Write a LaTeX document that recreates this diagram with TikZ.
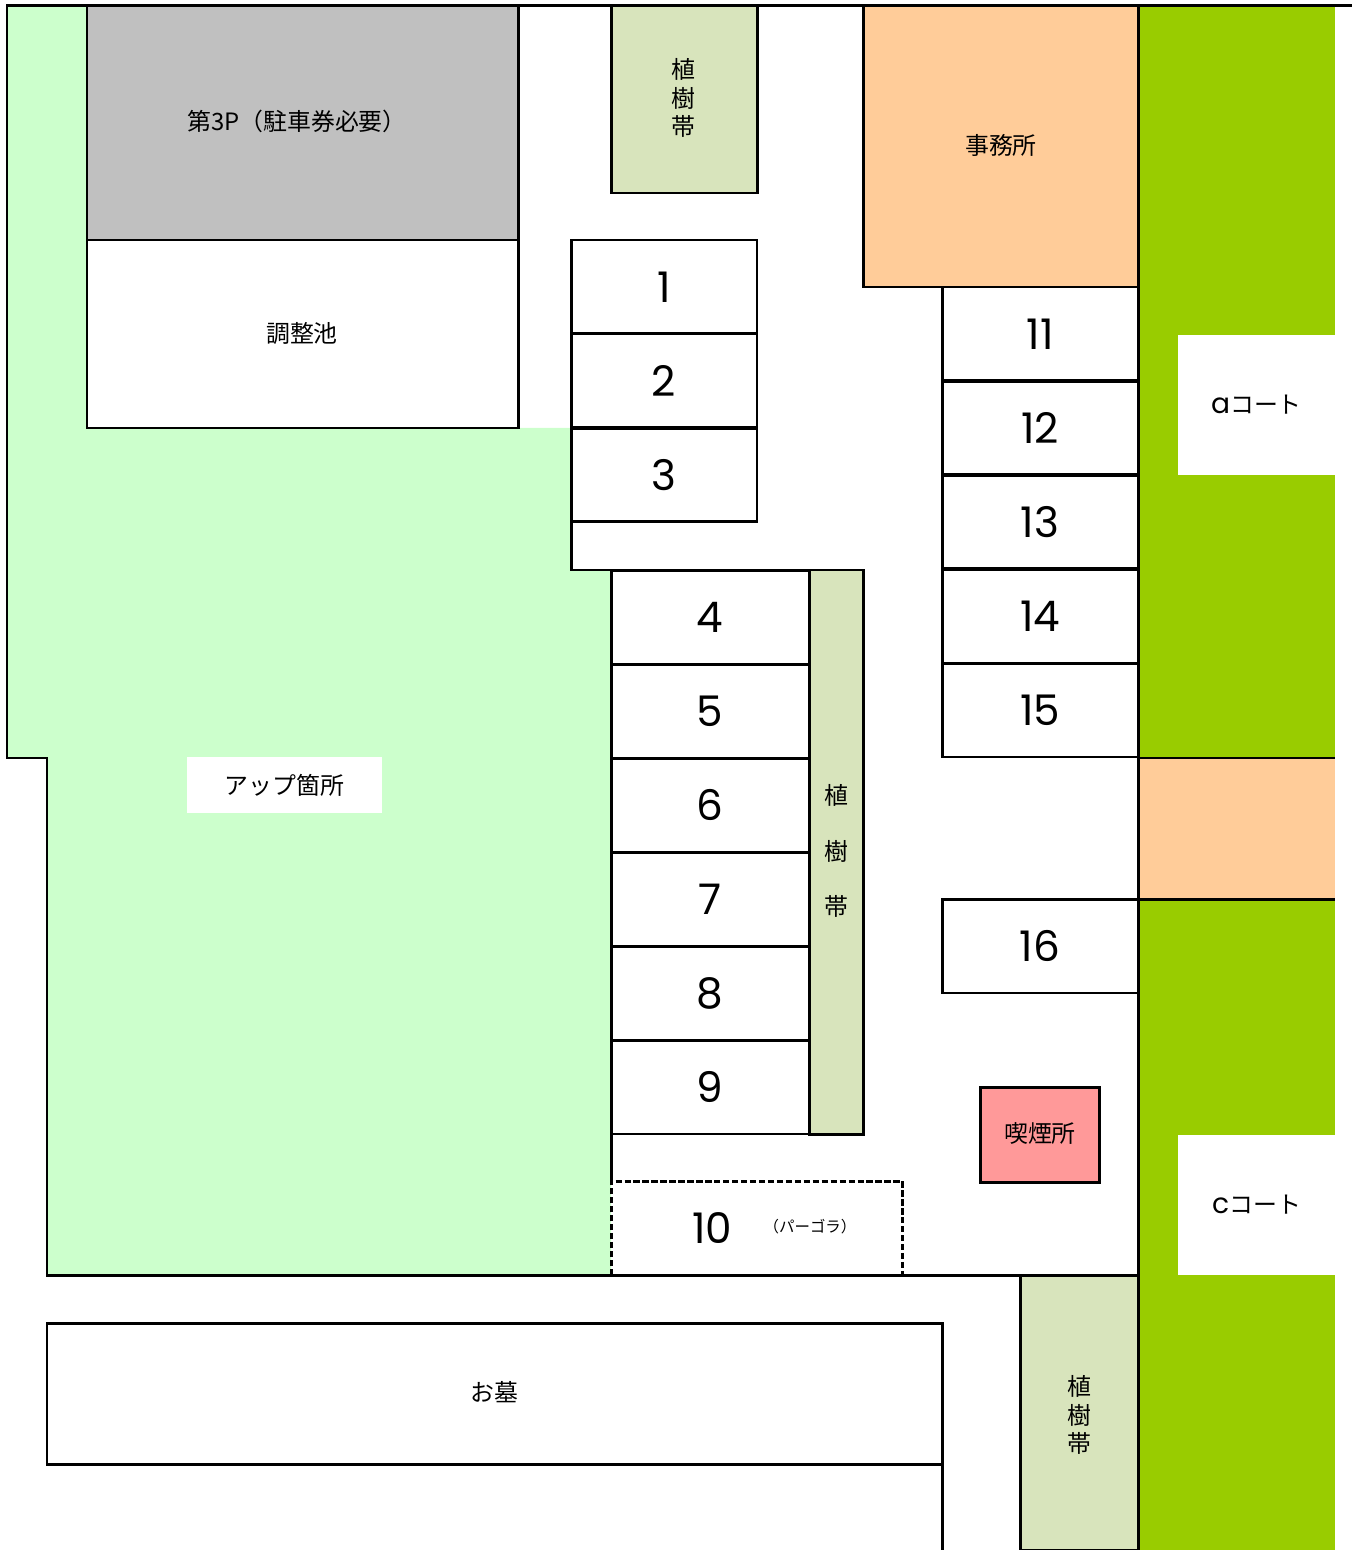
\documentclass[tikz,border=0pt]{standalone}
\usepackage{fontspec}
\setmainfont{Noto Sans CJK JP}
\newfontfamily\numfont{Poppins}
\definecolor{lawn}{HTML}{CCFFCC}
\definecolor{hedge}{HTML}{D8E4BC}
\definecolor{court}{HTML}{99CC00}
\definecolor{office}{HTML}{FFCC99}
\definecolor{smoke}{HTML}{FF9999}
\definecolor{pgrey}{HTML}{C0C0C0}
\tikzset{
  wall/.style={line width=1.7pt, draw=black},
  jp/.style={font=\fontsize{13.6}{16}\selectfont, inner sep=0pt, align=center},
  num/.style={font=\numfont\fontsize{24}{28}\selectfont, inner sep=0pt},
  slotA/.style={wall, fill=white, num, minimum width=3.72cm, minimum height=1.88cm},
  slotB/.style={wall, fill=white, num, minimum width=3.96cm, minimum height=1.88cm},
  slotC/.style={wall, fill=white, num, minimum width=3.92cm, minimum height=1.88cm},
  courtbox/.style={fill=white, jp, minimum width=3.14cm, minimum height=2.8cm}
}
\begin{document}
\begin{tikzpicture}[x=0.02cm, y=-0.02cm]
\useasboundingbox (0,0) rectangle (1357,1550);
\fill[lawn] (7,6) -- (87,6) -- (87,428) -- (571,428) -- (571,570) -- (611,570) -- (611,1275) -- (47,1275) -- (47,758) -- (7,758) -- cycle;
\fill[court] (1138,6) rectangle (1335,1550);
\fill[office] (1138,758) rectangle (1335,899);
\draw[wall] (6,6) -- (1352,6);
\draw[wall] (7,6) -- (7,758) -- (47,758) -- (47,1275) -- (1138,1275);
\draw[wall] (1138,6) -- (1138,1550);
\draw[wall] (1138,758) -- (1335,758);
\draw[wall] (1138,899) -- (1335,899);
\draw[wall] (571,522) -- (571,570) -- (863,570);
\draw[wall] (611,1134) -- (611,1181);
\draw[wall, fill=pgrey] (87,6) rectangle (518,240);
\draw[wall, fill=white] (87,240) rectangle (518,428);
\draw[wall, fill=hedge] (611,6) rectangle (757,193);
\draw[wall, fill=office] (863,6) rectangle (1138,287);
\draw[wall, fill=hedge] (809,570) rectangle (863,1134);
\draw[wall, fill=hedge] (1020,1275) rectangle (1138,1550);
\draw[wall, fill=white] (47,1464) -- (942,1464) -- (942,1323) -- (47,1323) -- cycle;
\draw[wall] (942,1464) -- (942,1550);
\draw[wall, fill=smoke] (980,1087) rectangle (1099,1182);
\draw[line width=1.7pt, dash pattern=on 3.6pt off 1.5pt] (611,1275) -- (611,1181) -- (902,1181) -- (902,1275);
\node[jp] (parking) at (297,121) {第3P（駐車券必要）};
\node[jp] (pond) at (302,333) {調整池};
\node[jp] (hedge1) at (683,98) {植\\樹\\帯};
\node[jp] (hq) at (1001,145) {事務所};
\node[jp, font=\fontsize{13.6}{31.7}\selectfont] (hedge2) at (836,851) {植\\樹\\帯};
\node[jp] (hedge3) at (1079,1415) {植\\樹\\帯};
\node[jp] (booth) at (1040,1133) {喫煙所};
\node[jp] (grave) at (494,1392) {お墓};
\node[jp, fill=white, minimum width=3.9cm, minimum height=1.12cm] (upload) at (284.5,785) {アップ箇所};
\node[courtbox] (courta) at (1256.5,405) {{\numfont\fontsize{16}{16}\selectfont a}コート};
\node[courtbox] (courtc) at (1256.5,1205) {{\numfont\fontsize{16}{16}\selectfont c}コート};
\node[slotA] (s1) at (664,287) {1};
\node[slotA] (s2) at (664,381) {2};
\node[slotA] (s3) at (664,475) {3};
\node[slotB] (s4) at (710,617) {4};
\node[slotB] (s5) at (710,711) {5};
\node[slotB] (s6) at (710,805) {6};
\node[slotB] (s7) at (710,899) {7};
\node[slotB] (s8) at (710,993) {8};
\node[slotB] (s9) at (710,1087) {9};
\node[num] (s10) at (712,1228) {10};
\node[jp, font=\fontsize{8.8}{10}\selectfont] (pergola) at (810,1227) {（パーゴラ）};
\node[slotC] (s11) at (1040,334) {11};
\node[slotC] (s12) at (1040,428) {12};
\node[slotC] (s13) at (1040,522) {13};
\node[slotC] (s14) at (1040,616) {14};
\node[slotC] (s15) at (1040,710) {15};
\node[slotC] (s16) at (1040,946) {16};
\end{tikzpicture}
\end{document}
